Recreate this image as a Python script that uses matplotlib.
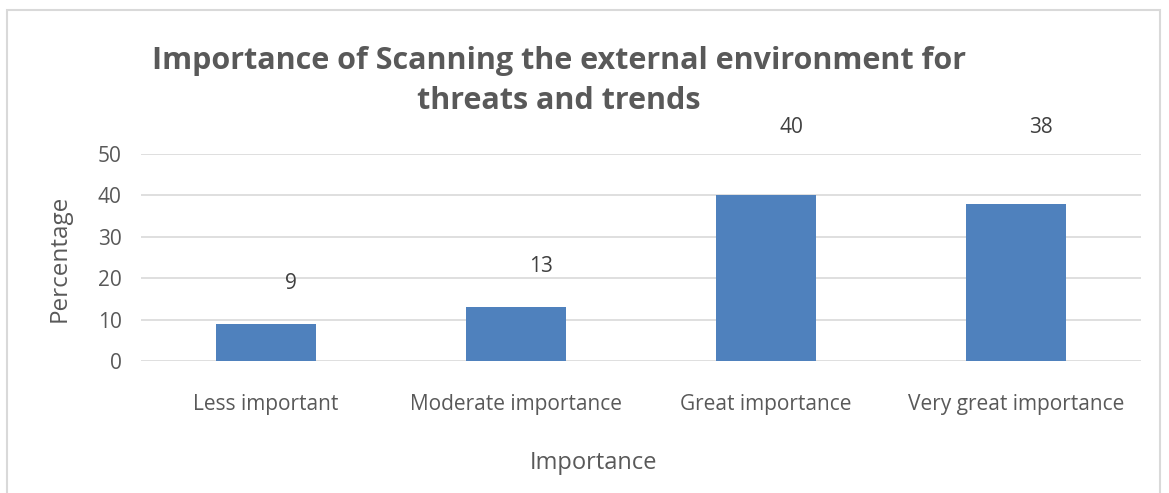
import matplotlib
matplotlib.use("Agg")
import matplotlib.pyplot as plt
from matplotlib.patches import Rectangle

categories = ["Less important", "Moderate importance", "Great importance", "Very great importance"]
values = [9, 13, 40, 38]
yticks = [0, 10, 20, 30, 40, 50]

BAR = "#4F81BD"
TEXT = "#595959"
GRID = "#D9D9D9"

plt.rcParams["font.family"] = ["Open Sans", "DejaVu Sans"]

fig = plt.figure(figsize=(11.69, 4.93), dpi=100)
ax = fig.add_axes([141 / 1169, 1 - 361 / 493, 1000 / 1169, 207 / 493])

x = range(len(categories))
ax.bar(x, values, width=0.4, color=BAR, zorder=3)
ax.set_xlim(-0.5, len(categories) - 0.5)
ax.set_ylim(0, 50)
ax.set_yticks(yticks)
ax.set_xticks(list(x))
ax.set_xticklabels(categories)
ax.grid(axis="y", color=GRID, linewidth=1.2, zorder=0)
for s in ax.spines.values():
    s.set_visible(False)
ax.tick_params(length=0, labelsize=15, colors=TEXT)
ax.tick_params(axis="y", pad=14)
ax.tick_params(axis="x", pad=24)

# labels sit high above the bars; the tall ones get pushed up under the title
for i, v in zip(x, values):
    ly = v + 9.8 if v + 9.8 < 45 else 56.5
    ax.text(i + 0.1, ly, str(v), ha="center", va="center",
            fontsize=15, color="#404040", clip_on=False)

ax.set_xlabel("Importance", fontsize=17, color=TEXT)
ax.xaxis.set_label_coords((593 - 141) / 1000, -(451 - 361) / 207)
ax.set_ylabel("Percentage", fontsize=17.5, color=TEXT)
ax.yaxis.set_label_coords(-(141 - 72) / 1000, (361 - 258) / 207)

fig.text(559 / 1169, 1 - 81 / 493,
         "Importance of Scanning the external environment for\nthreats and trends",
         ha="center", va="center", fontsize=22, fontweight="bold", color=TEXT,
         linespacing=1.45)

fig.patches.append(Rectangle((7 / 1169, -0.1), 1153 / 1169, 1.1 - 10 / 493,
                             transform=fig.transFigure, fill=False,
                             edgecolor=GRID, linewidth=1.5))

fig.savefig("out.png", dpi=100)
